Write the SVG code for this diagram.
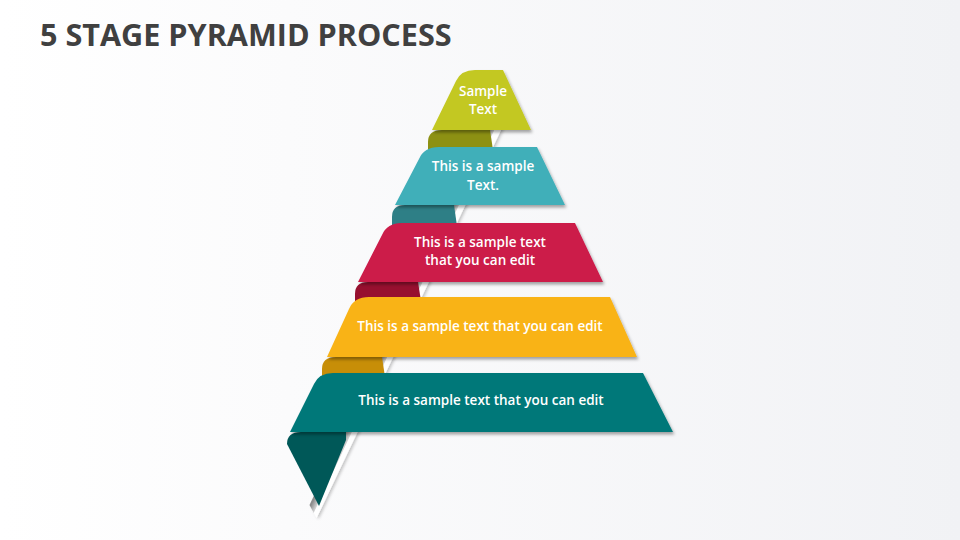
<svg xmlns="http://www.w3.org/2000/svg" width="960" height="540" viewBox="0 0 960 540">
  <defs>
    <linearGradient id="bg" x1="0" y1="0" x2="1" y2="0">
      <stop offset="0" stop-color="#ffffff"/>
      <stop offset="0.3" stop-color="#fbfbfc"/>
      <stop offset="1" stop-color="#f1f2f5"/>
    </linearGradient>
    <linearGradient id="spineGrad" gradientUnits="userSpaceOnUse" x1="490.4" y1="125" x2="501" y2="130">
      <stop offset="0" stop-color="#8c8c8c"/>
      <stop offset="0.45" stop-color="#d2d2d2"/>
      <stop offset="0.52" stop-color="#ffffff"/>
      <stop offset="1" stop-color="#ffffff"/>
    </linearGradient>
    <filter id="shadow" x="-10%" y="-20%" width="125%" height="150%">
      <feDropShadow dx="1.5" dy="2.5" stdDeviation="1.6" flood-color="#000000" flood-opacity="0.35"/>
    </filter>
    <filter id="softShadow" x="-20%" y="-10%" width="140%" height="120%">
      <feDropShadow dx="2" dy="1" stdDeviation="1.5" flood-color="#000000" flood-opacity="0.22"/>
    </filter>
  </defs>
  <style>
    .title { font-family: "Open Sans", "Liberation Sans", sans-serif; font-weight: 700; font-size: 30.6px; fill: #404040; }
    .label { font-family: "Open Sans", "Liberation Sans", sans-serif; font-weight: 600; font-size: 13.5px; fill: #ffffff; text-anchor: middle; }
    .face { filter: url(#shadow); }
  </style>

  <rect x="0" y="0" width="960" height="540" fill="url(#bg)"/>

  <text class="title" x="40" y="46">5 STAGE PYRAMID PROCESS</text>

  <g id="spine" filter="url(#softShadow)">
    <path d="M490.4,125 L503.4,125 L320,511 L316.5,518 L309.5,505 Z" fill="url(#spineGrad)"/>
  </g>

  <g id="stage1">
    <path d="M442,130 Q428,130 428,142 L428,150 L493,150 L490,130 Z" fill="#8D9113"/>
    <path class="face" d="M432,130 L456,81 Q461,70 475,70 L503,70 L531,130 Z" fill="#C3C821"/>
    <text class="label" x="483" y="96">Sample</text>
    <text class="label" x="483" y="114">Text</text>
  </g>

  <g id="stage2">
    <path d="M405,205 Q392,205 392,217 L392,226 L457,226 L454,205 Z" fill="#2E7F86"/>
    <path class="face" d="M395,205 L419,159 Q424,147 439,147 L537,147 L565,205 Z" fill="#41AFB9"/>
    <text class="label" x="483" y="171">This is a sample</text>
    <text class="label" x="483" y="190">Text.</text>
  </g>

  <g id="stage3">
    <path d="M368,282 Q355,282 355,294 L355,301 L421,301 L418,282 Z" fill="#97102F"/>
    <path class="face" d="M358,282 L382,235 Q387,223 402,223 L575,223 L603,282 Z" fill="#CC1A4A"/>
    <text class="label" x="480" y="247">This is a sample text</text>
    <text class="label" x="480" y="265">that you can edit</text>
  </g>

  <g id="stage4">
    <path d="M336,357 Q322,357 322,369 L322,377 L385,377 L382,357 Z" fill="#C78E08"/>
    <path class="face" d="M327,357 L349,309 Q354,297 369,297 L610,297 L637,357 Z" fill="#F9B319"/>
    <text class="label" x="480" y="331">This is a sample text that you can edit</text>
  </g>

  <g id="stage5">
    <path d="M301,432 Q287,432 287,444 L319,506 L346,440 L346,432 Z" fill="#005858"/>
    <path class="face" d="M290,432 L314,384 Q319,373 333,373 L643,373 L673,432 Z" fill="#007879"/>
    <text class="label" x="481" y="405">This is a sample text that you can edit</text>
  </g>
</svg>
